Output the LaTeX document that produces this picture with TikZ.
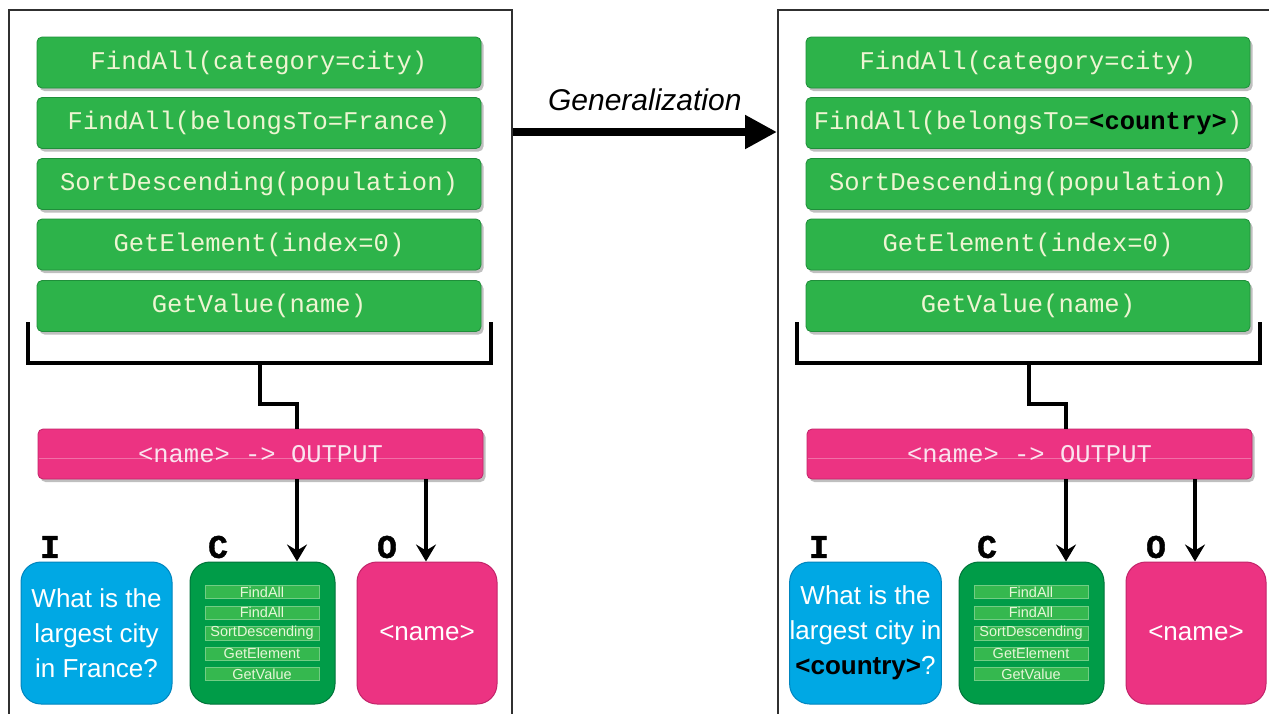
\documentclass[tikz,border=0pt]{standalone}
\usepackage{fontspec}
\setmainfont{Liberation Sans}
\setmonofont{Liberation Mono}
\newfontfamily\tagfam[FakeBold=1.2]{Liberation Mono Bold}
\usetikzlibrary{arrows.meta,shadows}

\definecolor{framegray}{HTML}{303030}
\definecolor{stepgreen}{HTML}{2DB34A}
\definecolor{stepgreenline}{HTML}{1F8F3A}
\definecolor{steptext}{HTML}{EEF5D2}
\definecolor{codegreen}{HTML}{009C48}
\definecolor{codegreenline}{HTML}{00743A}
\definecolor{minigreen}{HTML}{35B84F}
\definecolor{minitext}{HTML}{E6F6D8}
\definecolor{qblue}{HTML}{00A8E4}
\definecolor{qblueline}{HTML}{0085BF}
\definecolor{outpink}{HTML}{EC3382}
\definecolor{outpinkline}{HTML}{C2246A}
\definecolor{outtext}{HTML}{FAE3EE}

\newcommand\stepfont{\ttfamily\fontsize{25.5}{30}\selectfont}
\newcommand\qfont{\fontsize{26}{35}\selectfont}
\newcommand\tagfont{\tagfam\fontsize{33}{33}\selectfont}
\newcommand\minifont{\fontsize{14.5}{15}\selectfont}
\newcommand\phold[1]{{\bfseries\color{black}#1}}

\tikzset{
  panelframe/.style={draw=framegray, line width=1.6pt, anchor=north west,
    inner sep=0pt, minimum height=760pt},
  softshadow/.style={drop shadow={shadow xshift=2.5pt, shadow yshift=-3pt,
    fill=black, opacity=0.25}},
  stepbox/.style={rectangle, rounded corners=5pt, fill=stepgreen,
    draw=stepgreenline, line width=0.8pt, minimum width=444pt,
    minimum height=51pt, inner sep=0pt, font=\stepfont, text=steptext,
    softshadow},
  outbar/.style={rectangle, rounded corners=5pt, fill=outpink,
    draw=outpinkline, line width=0.8pt, minimum width=445pt,
    minimum height=50pt, inner sep=0pt, font=\stepfont, text=outtext,
    softshadow},
  bigbox/.style={rectangle, rounded corners=20pt, line width=1pt,
    minimum height=142pt, inner sep=0pt, text=white},
  qbox/.style={bigbox, fill=qblue, draw=qblueline, minimum width=151pt,
    font=\qfont, align=center},
  cbox/.style={bigbox, fill=codegreen, draw=codegreenline, minimum width=145pt},
  obox/.style={bigbox, fill=outpink, draw=outpinkline, minimum width=140pt,
    font=\qfont},
  minibar/.style={rectangle, fill=minigreen, draw=minigreen!70!white,
    line width=0.4pt, minimum width=114pt, minimum height=13pt,
    inner sep=0pt, font=\minifont, text=minitext},
  tag/.style={font=\tagfont, text=black, inner sep=0pt},
  wire/.style={draw=black, line width=3.2pt},
  downarrow/.style={wire, -{Stealth[length=17pt, width=20pt, inset=6pt]}},
}

% One panel: #1 name prefix, #2 horizontal offset,
% #3 second step, #4 question
\newcommand\drawpanel[4]{%
  \begin{scope}[xshift=#2pt]
    % program steps
    \node[stepbox] (#1s1) at (259,62.5) {FindAll(category=city)};
    \node[stepbox] (#1s2) at (259,123)  {#3};
    \node[stepbox] (#1s3) at (259,184)  {SortDescending(population)};
    \node[stepbox] (#1s4) at (259,244.5){GetElement(index=0)};
    \node[stepbox] (#1s5) at (259,306)  {GetValue(name)};
    % bracket collecting the steps
    \coordinate (#1bl) at (28,322);
    \coordinate (#1blc) at (28,363);
    \coordinate (#1brc) at (491,363);
    \coordinate (#1br) at (491,322);
    \coordinate (#1mid) at (260,363);
    \coordinate (#1bend) at (260,404);
    \coordinate (#1cx) at (297,0);
    \coordinate (#1ox) at (426,0);
    \draw[wire] (#1bl) -- (#1blc) -- (#1brc) -- (#1br);
    % output mapping
    \node[outbar] (#1out) at (260.5,454) {<name> -> OUTPUT};
    \draw[white, opacity=0.3, line width=0.6pt]
      ([xshift=1pt,yshift=-4pt]#1out.west) -- ([xshift=-1pt,yshift=-4pt]#1out.east);
    \draw[wire] (#1mid) -- (#1bend) -| (#1out.north -| #1cx);
    % input / code / output boxes
    \node[qbox] (#1q) at (96.5,633) {#4};
    \node[cbox] (#1c) at (262.5,633) {};
    \node[obox] (#1o) at (427,633) {<name>};
    \node[tag] (#1ti) at (50,547) {I};
    \node[tag] (#1tc) at (218,547) {C};
    \node[tag] (#1to) at (387,547) {O};
    \node[minibar] (#1m1) at (262,592)   {FindAll};
    \node[minibar] (#1m2) at (262,612.5) {FindAll};
    \node[minibar] (#1m3) at (262,633)   {SortDescending};
    \node[minibar] (#1m4) at (262,653.5) {GetElement};
    \node[minibar] (#1m5) at (262,674)   {GetValue};
    \draw[downarrow] (#1out.south -| #1cx) -- (#1c.north -| #1cx);
    \draw[downarrow] (#1out.south -| #1ox) -- (#1o.north -| #1ox);
  \end{scope}%
}

\begin{document}
\begin{tikzpicture}[x=1pt, y=-1pt]
  \clip (0,0) rectangle (1269,713);
  \fill[white] (0,0) rectangle (1269,713);

  % panel frames
  \node[panelframe, minimum width=503pt] (lframe) at (8,9) {};
  \node[panelframe, minimum width=520pt] (rframe) at (777,9) {};

  \drawpanel{l}{0}{FindAll(belongsTo=France)}
    {What is the\\largest city\\in France?}
  \drawpanel{r}{769}{FindAll(belongsTo=\phold{<country>})}
    {What is the\\largest city in\\\phold{<country>}?}

  % generalization arrow between the panels
  \coordinate (gy) at (0,132);
  \draw[line width=8pt, -{Triangle[length=32pt, width=32pt]}]
    (lframe.north east |- gy) -- (rframe.north west |- gy)
    node[midway, above=14pt, font=\itshape\fontsize{30}{30}\selectfont,
      text=black] (glabel) {Generalization};
\end{tikzpicture}
\end{document}
